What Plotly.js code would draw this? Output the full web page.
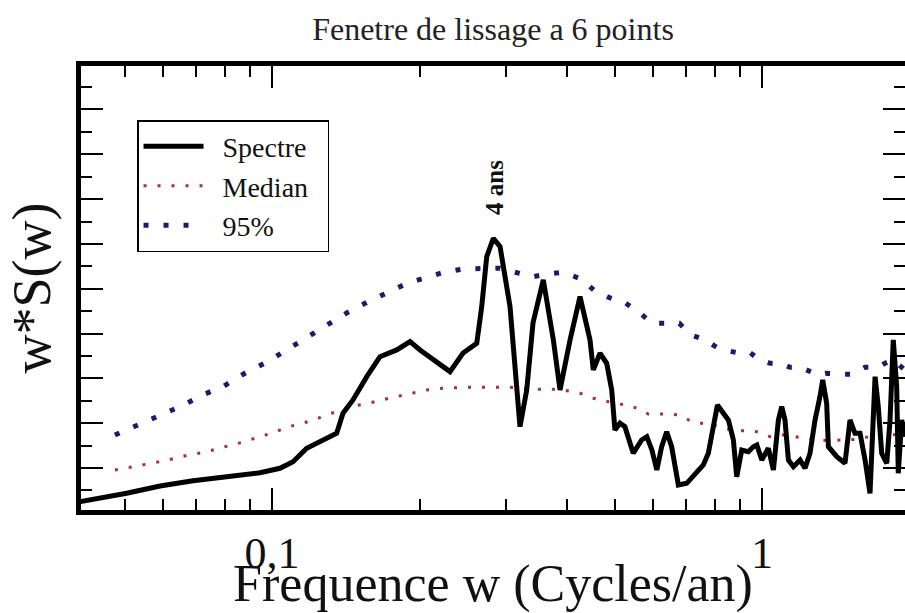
<!DOCTYPE html>
<html>
<head>
<meta charset="utf-8">
<script src="https://cdn.plot.ly/plotly-3.0.1.min.js"></script>
<style>html,body{margin:0;padding:0;background:#fff;overflow:hidden;}</style>
</head>
<body>
<div id="chart" style="width:905px;height:613px;"></div>
<script>
// Spectre (frequency in cycles/an, w*S(w) in arbitrary units)
const spectreFreq = [0.0405,0.0460,0.0505,0.0591,0.0690,0.0808,0.0945,0.1038,0.1104,0.1177,0.1253,0.1355,0.1396,0.1463,0.1561,0.1661,0.1797,0.1913,0.2005,0.2131,0.2308,0.2454,0.2617,0.2679,0.2743,0.2829,0.2920,0.3060,0.3133,0.3207,0.3310,0.3409,0.3578,0.3751,0.3871,0.4057,0.4252,0.4456,0.4526,
0.467,0.482,0.4935,0.501,0.513,0.525,0.546,0.568,0.582,0.596,0.610,0.624,0.639,0.654,0.675,0.702,0.730,0.759,0.777,0.796,0.811,0.834,0.854,0.874,0.888,0.909,0.938,0.960,0.976,0.999,1.030,1.055,1.080,1.097,1.114,1.132,1.159,1.196,1.224,1.253,1.283,1.313,1.330,1.355,1.366,1.421,1.477,1.512,1.548,1.585,1.623,1.661,1.687,1.701,1.727,1.755,1.797,1.825,1.853,1.883,1.897,1.928,1.958];
const spectreVal = [0.248,0.346,0.435,0.598,0.717,0.806,0.895,0.993,1.141,1.440,1.587,1.775,2.221,2.518,3.038,3.484,3.634,3.819,3.634,3.411,3.150,3.567,3.783,4.600,5.717,6.127,5.940,4.600,3.121,1.922,2.741,4.237,5.196,3.857,2.741,3.857,4.824,3.857,3.188,
3.560,3.337,2.741,1.848,1.998,1.922,1.328,1.625,1.699,1.402,0.955,1.475,1.810,1.475,0.621,0.658,0.844,1.067,1.328,1.998,2.406,2.221,2.071,1.625,0.806,1.402,1.364,1.475,1.513,1.179,1.440,0.955,2.071,2.368,2.071,1.179,1.029,1.179,0.993,1.328,2.071,2.592,2.964,2.444,1.475,1.252,1.105,2.071,1.775,1.775,1.179,0.435,2.071,3.038,2.368,1.328,1.105,2.071,3.857,2.815,0.882,2.071,1.699];

// Median
const medianFreq = [0.0478,0.0513,0.0553,0.0591,0.0634,0.0675,0.0722,0.0773,0.0824,0.0878,0.0945,0.1006,0.1072,0.1144,0.1218,0.1299,0.1398,0.1443,0.1572,0.1755,0.1883,0.2069,0.2237,0.2497,0.2743,0.3060,0.3414,0.3751,0.3994,0.4252,0.4526,0.482,0.509,0.5335,0.5592,0.5861,0.6143,0.6438,0.6803,0.7187,0.7473,0.7833,0.8338,0.888,0.9307,0.9755,1.0384,1.080,1.132,1.186,1.243,1.303,1.366,1.431,1.500,1.5605,1.623,1.714,1.797,1.883,1.958];
const medianVal = [0.955,1.016,1.089,1.141,1.217,1.290,1.342,1.424,1.498,1.587,1.699,1.788,1.908,1.998,2.071,2.199,2.295,2.368,2.444,2.569,2.645,2.741,2.779,2.801,2.801,2.801,2.757,2.757,2.725,2.667,2.556,2.491,2.429,2.406,2.317,2.205,2.205,2.205,2.183,2.033,1.998,1.993,1.886,1.833,1.833,1.810,1.699,1.737,1.737,1.685,1.663,1.625,1.609,1.625,1.625,1.641,1.685,1.699,1.737,1.752,1.752];

// 95% level
const p95Freq = [0.0478,0.0535,0.0591,0.0654,0.0722,0.0798,0.0884,0.0975,0.1077,0.1190,0.1303,0.1426,0.1572,0.1727,0.1889,0.2069,0.2244,0.2457,0.2679,0.2920,0.3133,0.3414,0.3664,0.3931,0.4286,0.4548,0.4896,0.5271,0.5619,0.5972,0.6370,0.6780,0.7164,0.7651,0.8083,0.8536,0.9019,0.9453,0.9907,1.0384,1.0884,1.1407,1.1956,1.2490,1.3030,1.3510,1.4094,1.4653,1.5243,1.5649,1.6226,1.7272,1.7826,1.8534,1.9280,1.958];
const p95Val = [1.737,1.975,2.183,2.384,2.629,2.830,3.127,3.359,3.650,3.946,4.230,4.471,4.712,4.922,5.123,5.257,5.368,5.442,5.458,5.458,5.368,5.270,5.330,5.368,5.212,4.958,4.795,4.676,4.467,4.230,4.230,4.230,3.969,3.857,3.694,3.612,3.560,3.574,3.411,3.337,3.337,3.248,3.248,3.165,3.076,3.114,3.092,3.092,3.092,3.150,3.248,3.248,3.337,3.411,3.261,3.18];

const xTickVals = [0.1, 1];
const xTickText = ['0,1', '1'];
const xMinorVals = [0.05,0.06,0.07,0.08,0.09,0.2,0.3,0.4,0.5,0.6,0.7,0.8,0.9];
const seriesNames = ['Spectre', 'Median', '95%'];
const peakFreq = 0.2838;
const peakLabel = '4 ans';

const serif = "'Liberation Serif', 'Times New Roman', serif";
const pad = s => '\u00a0\u00a0' + s + '\u00a0\u00a0';

const traces = [
  {x: p95Freq, y: p95Val, name: pad(seriesNames[2]), mode: 'lines', legendrank: 3,
   line: {color: '#1b1b6b', width: 5, dash: '5px,15px'}},
  {x: medianFreq, y: medianVal, name: pad(seriesNames[1]), mode: 'lines', legendrank: 2,
   line: {color: '#a8302e', width: 3, dash: '3px,11px'}},
  {x: spectreFreq, y: spectreVal, name: pad(seriesNames[0]), mode: 'lines', legendrank: 1,
   line: {color: '#000', width: 5}}
];

// x tick marks (bottom and top, inside the frame), positioned on the log x scale
const tickShapes = [];
function addTicks(vals, len) {
  vals.forEach(v => {
    const lx = Math.log10(v);
    tickShapes.push({type: 'line', xref: 'x', yref: 'paper', x0: lx, x1: lx,
      ysizemode: 'pixel', yanchor: 0, y0: 0, y1: len, line: {color: '#000', width: 2}, layer: 'above'});
    tickShapes.push({type: 'line', xref: 'x', yref: 'paper', x0: lx, x1: lx,
      ysizemode: 'pixel', yanchor: 1, y0: 0, y1: -len, line: {color: '#000', width: 2}, layer: 'above'});
  });
}
addTicks(xTickVals, 22);
addTicks(xMinorVals, 11);

const layout = {
  width: 905, height: 613,
  margin: {l: 81, r: 0, t: 66, b: 103, pad: 0},
  paper_bgcolor: '#fff', plot_bgcolor: '#fff',
  font: {family: serif, color: '#111'},
  title: {text: 'Fenetre de lissage a 6 points', font: {family: serif, size: 32, color: '#222'},
          x: 0.5, xref: 'paper', y: 0.953, yref: 'container', yanchor: 'middle'},
  xaxis: {
    type: 'log', range: [-1.3898, 0.2918],
    tickmode: 'array', tickvals: xTickVals, ticktext: xTickText,
    ticks: 'inside', ticklen: 22, tickwidth: 2, tickcolor: '#000',
    minor: {dtick: 'D1', ticks: 'inside', ticklen: 11, tickwidth: 2, tickcolor: '#000'},
    showline: true, linecolor: '#000', linewidth: 5, mirror: 'ticks',
    showgrid: false, zeroline: false,
    tickfont: {family: serif, size: 44, color: '#111'},
    title: {text: 'Frequence w (Cycles/an)', font: {family: serif, size: 52, color: '#111'}, standoff: 0}
  },
  yaxis: {
    range: [0.0625, 9.97],
    tickmode: 'linear', tick0: 0, dtick: 1, showticklabels: false,
    ticks: 'inside', ticklen: 22, tickwidth: 2, tickcolor: '#000',
    minor: {tick0: 0.5, dtick: 0.5, ticks: 'inside', ticklen: 11, tickwidth: 2, tickcolor: '#000'},
    showline: true, linecolor: '#000', linewidth: 5, mirror: 'ticks',
    showgrid: false, zeroline: false,
    title: {text: 'w*S(w)', font: {family: serif, size: 54, color: '#111'}, standoff: 10}
  },
  legend: {
    x: 0.068, y: 0.878, xanchor: 'left', yanchor: 'top',
    bgcolor: '#fff', bordercolor: '#000', borderwidth: 1.5,
    font: {family: serif, size: 28, color: '#111'},
    itemwidth: 60, traceorder: 'normal'
  },
  showlegend: true,
  shapes: tickShapes,
  annotations: [{
    x: Math.log10(peakFreq), y: 7.27, xref: 'x', yref: 'y',
    text: '<b>' + peakLabel + '</b>', showarrow: false, textangle: -90,
    font: {family: serif, size: 25, color: '#111'}, xanchor: 'center', yanchor: 'middle'
  }]
};

Plotly.newPlot('chart', traces, layout, {displayModeBar: false, staticPlot: true});
</script>
</body>
</html>
